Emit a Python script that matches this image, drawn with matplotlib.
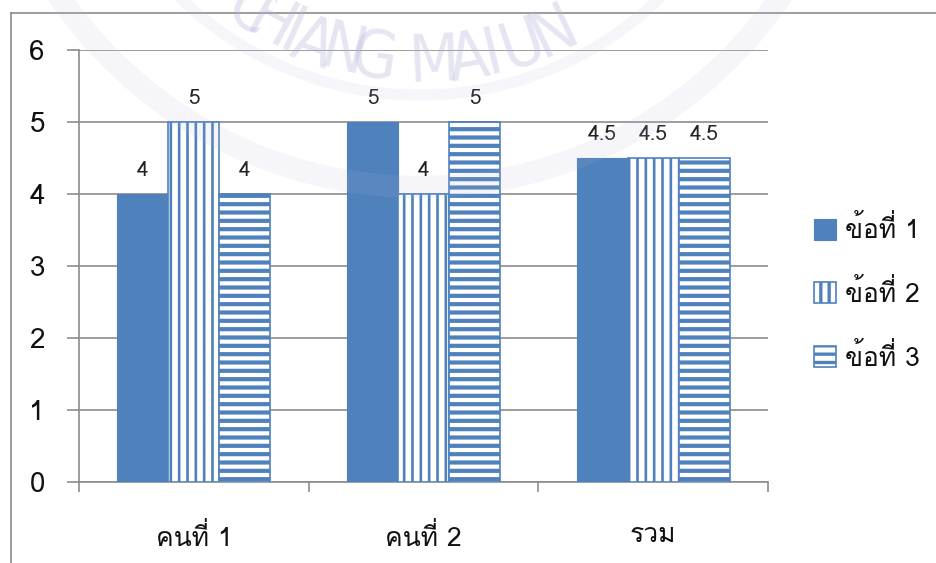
import matplotlib
matplotlib.use("Agg")
import matplotlib.pyplot as plt
import numpy as np
from matplotlib.lines import Line2D
from matplotlib.patches import Circle
from matplotlib.transforms import IdentityTransform

# ---------------- data ----------------
categories = ["คนที่ 1", "คนที่ 2", "รวม"]
series_names = ["ข้อที่ 1", "ข้อที่ 2", "ข้อที่ 3"]
q1 = [4, 5, 4.5]
q2 = [5, 4, 4.5]
q3 = [4, 5, 4.5]
y_ticks = [0, 1, 2, 3, 4, 5, 6]

FONT = ["Loma", "DejaVu Sans"]
plt.rcParams["font.family"] = FONT
plt.rcParams["hatch.linewidth"] = 2.4

BLUE = "#4F81BD"
GRAY = "#8C8C8C"
W, H = 936, 563

fig = plt.figure(figsize=(W / 100, H / 100), dpi=100)
fig.patch.set_facecolor("white")
ax = fig.add_axes([79 / W, 1 - 482 / H, (768 - 79) / W, (482 - 50) / H])
ax.set_facecolor("none")

x = np.arange(len(categories))
bw = 0.222
b1 = ax.bar(x - bw, q1, bw, color=BLUE, edgecolor=BLUE, linewidth=0.8,
            label=series_names[0], zorder=3)
b2 = ax.bar(x, q2, bw, facecolor="white", edgecolor=BLUE, hatch="||",
            linewidth=1.2, label=series_names[1], zorder=3)
b3 = ax.bar(x + bw, q3, bw, facecolor="white", edgecolor=BLUE, hatch="--",
            linewidth=1.2, label=series_names[2], zorder=3)
for p in b2:
    try:
        p.set_hatch_linewidth(1.9)
    except AttributeError:
        pass
for p in b3:
    try:
        p.set_hatch_linewidth(3.0)
    except AttributeError:
        pass

for bars in (b1, b2, b3):
    ax.bar_label(bars, labels=[("%g" % v) for v in bars.datavalues],
                 padding=10, fontsize=15, color="#222222")

ax.set_xlim(-0.5, len(categories) - 0.5)
ax.set_ylim(0, 6)
ax.set_yticks(y_ticks)
ax.set_yticklabels([str(t) for t in y_ticks], fontsize=20, color="#111111")
ax.yaxis.grid(True, color=GRAY, linewidth=1.2, zorder=0)
ax.set_axisbelow(True)

ax.set_xticks(x)
ax.set_xticklabels(categories, fontsize=19, color="#111111")
ax.set_xticks(np.arange(len(categories) + 1) - 0.5, minor=True)
ax.tick_params(axis="x", which="major", length=0, pad=29.5)
ax.tick_params(axis="x", which="minor", length=7.5, width=1.2, color=GRAY)
ax.tick_params(axis="y", which="major", length=8.6, width=1.2, color=GRAY, pad=16)

for s in ("top", "right"):
    ax.spines[s].set_visible(False)
for s in ("left", "bottom"):
    ax.spines[s].set_color(GRAY)
    ax.spines[s].set_linewidth(1.2)

leg = ax.legend(loc="center left", bbox_to_anchor=(814 / W, 1 - 293 / H),
                bbox_transform=fig.transFigure, frameon=False, fontsize=19,
                handlelength=0.84, handleheight=0.84, handletextpad=0.35,
                labelspacing=1.35, borderpad=0, borderaxespad=0)
for t in leg.get_texts():
    t.set_color("#111111")

# chart frame
fig.add_artist(Line2D([11, W + 5], [H - 13, H - 13], color=GRAY, lw=1.2,
                      transform=IdentityTransform()))
fig.add_artist(Line2D([11, 11], [H - 13, -5], color=GRAY, lw=1.2,
                      transform=IdentityTransform()))

# faint watermark (seal) in the background
cx, cy = 420, -250
R = 313
wm_col = "#b4b4dc"
letters = [("C", -33), ("H", -28.5), ("I", -24.3), ("A", -20), ("N", -14.3),
           ("G", -8.5), ("M", 2.5), ("A", 9), ("I", 13.4), ("U", 19.2),
           ("N", 25.5)]
for ch, phi in letters:
    r = np.radians(phi)
    px = cx + R * np.sin(r)
    py = cy + R * np.cos(r)
    fig.text(px, H - py, ch, transform=IdentityTransform(), rotation=phi,
             rotation_mode="anchor", ha="center", va="center", fontsize=47,
             family="DejaVu Sans", fontstretch="condensed", color=wm_col,
             alpha=0.33, zorder=10)
for rad, lw in ((437, 16), (345, 8)):
    fig.add_artist(Circle((cx, H - cy), rad, fill=False, edgecolor=wm_col,
                          lw=lw, alpha=0.12, transform=IdentityTransform(),
                          zorder=10))

fig.savefig("out.png", dpi=100)
